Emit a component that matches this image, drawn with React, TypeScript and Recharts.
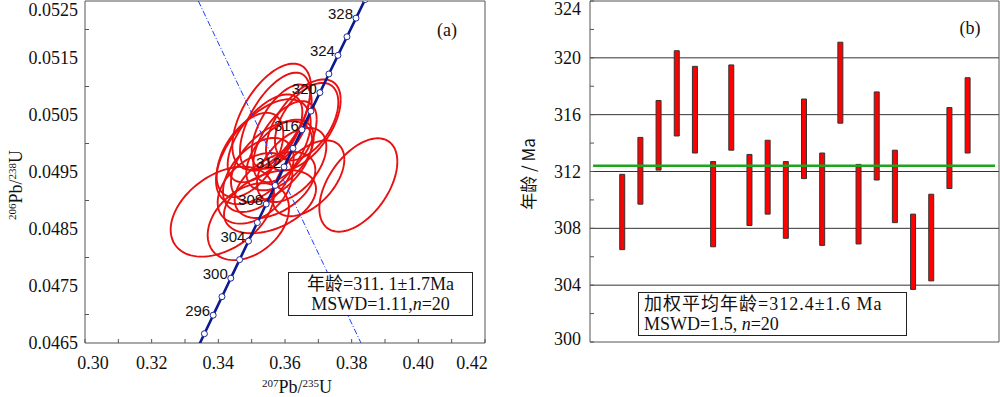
import React from 'react';
import {
  ComposedChart,
  Line,
  Bar,
  XAxis,
  YAxis,
  ReferenceArea,
  ReferenceLine,
  CartesianGrid,
} from 'recharts';

// ---------- Panel (a): concordia diagram ----------
const concordiaAge = [292, 294, 296, 298, 300, 302, 304, 306, 308, 310, 312, 314, 316, 318, 320, 322, 324, 326, 328, 330, 332];
const concordiaX = [0.333192, 0.335821, 0.338455, 0.341093, 0.343738, 0.346387, 0.349042, 0.351701, 0.354367, 0.357037, 0.359712, 0.362393, 0.36508, 0.367771, 0.370468, 0.37317, 0.375877, 0.37859, 0.381308, 0.384031, 0.38676];
const concordiaY = [0.0463381, 0.0466627, 0.0469875, 0.0473124, 0.0476374, 0.0479626, 0.0482878, 0.0486131, 0.0489385, 0.049264, 0.0495896, 0.0499154, 0.0502413, 0.0505673, 0.0508935, 0.0512198, 0.0515462, 0.0518728, 0.0521995, 0.0525262, 0.0528532];
const concordiaLabelAges = [296, 300, 304, 308, 312, 316, 320, 324, 328];

const discordiaX = [0.334, 0.3828];
const discordiaY = [0.0525, 0.0465];

// error ellipses: centre, half extents, correlation
const ellCx = [0.382, 0.3412, 0.349, 0.3555, 0.367, 0.356, 0.357, 0.3655, 0.3665, 0.3535, 0.356, 0.352, 0.3585, 0.354, 0.36, 0.351, 0.357, 0.362, 0.3495, 0.359];
const ellCy = [0.049272, 0.048804, 0.048629, 0.04898, 0.049389, 0.050471, 0.050383, 0.050325, 0.050383, 0.049857, 0.049682, 0.049448, 0.049799, 0.050091, 0.050033, 0.049214, 0.049272, 0.049623, 0.049799, 0.050296];
const ellSx = [0.0117, 0.0155, 0.0122, 0.0138, 0.0108, 0.0118, 0.0105, 0.0112, 0.0095, 0.0142, 0.0122, 0.0106, 0.0101, 0.0112, 0.0095, 0.0112, 0.0121, 0.0104, 0.0100, 0.0090];
const ellSy = [0.000819, 0.000789, 0.000675, 0.000555, 0.000665, 0.000930, 0.000860, 0.000800, 0.000680, 0.000920, 0.000710, 0.000650, 0.000620, 0.000770, 0.000710, 0.000620, 0.000580, 0.000650, 0.000740, 0.000740];
const ellRho = [0.5, 0.4, 0.35, 0.4, 0.5, 0.55, 0.6, 0.55, 0.5, 0.55, 0.5, 0.45, 0.5, 0.6, 0.55, 0.4, 0.45, 0.5, 0.5, 0.6];

const xTicksA = [0.3, 0.31, 0.32, 0.33, 0.34, 0.35, 0.36, 0.37, 0.38, 0.39, 0.4, 0.41, 0.42];
const yTicksA = [0.0465, 0.047, 0.0475, 0.048, 0.0485, 0.049, 0.0495, 0.05, 0.0505, 0.051, 0.0515, 0.052, 0.0525];

// ---------- Panel (b): individual ages ----------
const spotIndex = [1, 2, 3, 4, 5, 6, 7, 8, 9, 10, 11, 12, 13, 14, 15, 16, 17, 18, 19, 20];
const ageHigh = [311.8, 314.4, 317.0, 320.5, 319.4, 312.7, 319.5, 313.2, 314.2, 312.7, 317.1, 313.3, 321.1, 312.5, 317.6, 313.5, 309.0, 310.4, 316.5, 318.6];
const ageLow = [306.5, 309.7, 312.1, 314.5, 313.3, 306.7, 313.5, 308.2, 309.0, 307.3, 311.5, 306.8, 315.4, 306.9, 311.4, 308.4, 303.7, 304.3, 310.8, 313.3];
const weightedMean = 312.4;
const yTicksB = [300, 302, 304, 306, 308, 310, 312, 314, 316, 318, 320, 322, 324];
const gridValuesB = [304, 308, 312, 316, 320];

// ---------- derived tables ----------
const concordiaData = concordiaAge.map((t, i) => ({
  x: concordiaX[i],
  y: concordiaY[i],
  label: concordiaLabelAges.includes(t) ? String(t) : '',
}));
const discordiaData = discordiaX.map((x, i) => ({ x, y: discordiaY[i] }));

const ELL_STEPS = 96;
const ellipses = ellCx.map((cx, i) => {
  const sx = ellSx[i];
  const sy = ellSy[i];
  const rho = ellRho[i];
  const k = Math.sqrt(1 - rho * rho);
  const pts = [] as { x: number; y: number }[];
  for (let s = 0; s <= ELL_STEPS; s++) {
    const a = (2 * Math.PI * s) / ELL_STEPS;
    pts.push({ x: cx + sx * Math.cos(a), y: ellCy[i] + sy * (rho * Math.cos(a) + k * Math.sin(a)) });
  }
  return pts;
});

const barData = spotIndex.map((i, j) => ({ i, range: [ageLow[j], ageHigh[j]] }));

const SERIF = '"Liberation Serif", "Times New Roman", serif';
const SANS = '"Liberation Sans", Arial, sans-serif';
const CJK = '"Noto Sans CJK SC", sans-serif';
const FRAME = '#555';

const XTickA = (props: any) => {
  const { x, y, payload } = props;
  const v = payload.value as number;
  const major = Math.round(v * 100) % 2 === 0;
  let dx = 0;
  if (Math.abs(v - 0.3) < 1e-9) dx = 8;
  if (Math.abs(v - 0.42) < 1e-9) dx = -13;
  return (
    <g>
      <line x1={x} y1={y} x2={x} y2={y - 4} stroke={FRAME} strokeWidth={1} />
      {major && (
        <text x={x + dx} y={y + 26} textAnchor="middle" fontFamily={SERIF} fontSize={18} fill="#111">
          {v.toFixed(2)}
        </text>
      )}
    </g>
  );
};

const YTickA = (props: any) => {
  const { x, y, payload } = props;
  const v = payload.value as number;
  const major = Math.round(v * 10000) % 10 === 5;
  const dy = Math.abs(v - 0.0525) < 1e-9 ? 9 : 0;
  return (
    <g>
      {!major && <line x1={x} y1={y} x2={x + 4} y2={y} stroke={FRAME} strokeWidth={1} />}
      {major && (
        <text x={x - 7} y={y + 6 + dy} textAnchor="end" fontFamily={SERIF} fontSize={18} fill="#111">
          {v.toFixed(4)}
        </text>
      )}
    </g>
  );
};

const YTickB = (props: any) => {
  const { x, y, payload } = props;
  const v = payload.value as number;
  const major = v % 4 === 0;
  let dy = 0;
  if (v === 324) dy = 8;
  if (v === 300) dy = -3;
  return (
    <g>
      <line x1={x} y1={y} x2={x + 4} y2={y} stroke={FRAME} strokeWidth={1} />
      {major && (
        <text x={x - 9} y={y + 6 + dy} textAnchor="end" fontFamily={SERIF} fontSize={18} fill="#111">
          {v}
        </text>
      )}
    </g>
  );
};

const ConcordiaDot = (props: any) => {
  const { cx, cy, payload, index } = props;
  if (cx == null || cy == null) return <g key={`d${index}`} />;
  return (
    <g key={`d${index}`}>
      <circle cx={cx} cy={cy} r={3} fill="#fff" stroke="#1c2a9a" strokeWidth={1} />
      {payload.label && (
        <text x={cx - 3} y={cy + 1} textAnchor="end" fontFamily={SANS} fontSize={15} fill="#111">
          {payload.label}
        </text>
      )}
    </g>
  );
};

export default function App() {
  return (
    <div style={{ position: 'absolute', left: 0, top: 0, width: 1000, height: 397, background: '#fff', overflow: 'hidden' }}>
      {/* Panel (a) */}
      <div style={{ position: 'absolute', left: 0, top: 0 }}>
        <ComposedChart width={490} height={397} margin={{ top: 1, right: 5, bottom: 24, left: 5 }}>
          <XAxis
            dataKey="x"
            type="number"
            domain={[0.3, 0.42]}
            ticks={xTicksA}
            interval={0}
            allowDataOverflow
            height={30}
            tickSize={0}
            tickMargin={0}
            tickLine={false}
            axisLine={false}
            tick={<XTickA />}
          />
          <YAxis
            dataKey="y"
            type="number"
            domain={[0.0465, 0.0525]}
            ticks={yTicksA}
            interval={0}
            allowDataOverflow
            width={80}
            tickSize={0}
            tickMargin={0}
            tickLine={false}
            axisLine={false}
            tick={<YTickA />}
          />
          {ellipses.map((pts, i) => (
            <Line
              key={`e${i}`}
              data={pts}
              dataKey="y"
              type="linear"
              stroke="#e81010"
              strokeWidth={1.9}
              dot={false}
              activeDot={false}
              isAnimationActive={false}
            />
          ))}
          <Line
            data={discordiaData}
            dataKey="y"
            type="linear"
            stroke="#1f3cff"
            strokeWidth={1}
            strokeDasharray="6 2 1 2"
            dot={false}
            activeDot={false}
            isAnimationActive={false}
          />
          <Line
            data={concordiaData}
            dataKey="y"
            type="monotone"
            stroke="#0b1a8c"
            strokeWidth={2.6}
            dot={<ConcordiaDot />}
            activeDot={false}
            isAnimationActive={false}
          />
          <ReferenceArea x1={0.3} x2={0.42} y1={0.0465} y2={0.0525} fill="none" stroke={FRAME} strokeWidth={1} />
        </ComposedChart>
      </div>

      {/* Panel (b) */}
      <div style={{ position: 'absolute', left: 500, top: 0 }}>
        <ComposedChart width={500} height={397} data={barData} margin={{ top: 1, right: 1, bottom: 55, left: 10 }}>
          <CartesianGrid horizontal vertical={false} horizontalValues={gridValuesB} stroke="#333" strokeWidth={1} />
          <XAxis dataKey="i" type="number" domain={[-0.75, 21.75]} allowDataOverflow hide />
          <YAxis
            type="number"
            domain={[300, 324]}
            ticks={yTicksB}
            interval={0}
            allowDataOverflow
            width={80}
            tickSize={0}
            tickMargin={0}
            tickLine={false}
            axisLine={false}
            tick={<YTickB />}
          />
          <ReferenceLine
            segment={[
              { x: -0.58, y: weightedMean },
              { x: 21.53, y: weightedMean },
            ]}
            stroke="#1ea51e"
            strokeWidth={2.4}
          />
          <Bar dataKey="range" barSize={5} fill="#ff0000" stroke="#333" strokeWidth={1} isAnimationActive={false} />
          <ReferenceArea x1={-0.75} x2={21.75} y1={300} y2={324} fill="none" stroke={FRAME} strokeWidth={1} />
        </ComposedChart>
      </div>

      {/* Axis titles and annotations */}
      <div
        style={{
          position: 'absolute',
          left: 14,
          top: 185,
          transform: 'translate(-50%, -50%) rotate(-90deg)',
          whiteSpace: 'nowrap',
          fontFamily: SERIF,
          fontSize: 18,
          lineHeight: '20px',
          color: '#111',
        }}
      >
        <span style={{ fontSize: 11, verticalAlign: '6px' }}>206</span>Pb/<span style={{ fontSize: 11, verticalAlign: '6px' }}>238</span>U
      </div>
      <div
        style={{
          position: 'absolute',
          left: 297,
          top: 385,
          transform: 'translate(-50%, -50%)',
          whiteSpace: 'nowrap',
          fontFamily: SERIF,
          fontSize: 18,
          lineHeight: '22px',
          color: '#111',
        }}
      >
        <span style={{ fontSize: 11, verticalAlign: '6px' }}>207</span>Pb/<span style={{ fontSize: 11, verticalAlign: '6px' }}>235</span>U
      </div>
      <div style={{ position: 'absolute', left: 447, top: 30, transform: 'translate(-50%, -50%)', fontFamily: SERIF, fontSize: 18, color: '#111' }}>(a)</div>
      <div style={{ position: 'absolute', left: 970, top: 28, transform: 'translate(-50%, -50%)', fontFamily: SERIF, fontSize: 18, color: '#111' }}>(b)</div>

      <div
        style={{
          position: 'absolute',
          left: 288,
          top: 272,
          width: 185,
          height: 44,
          boxSizing: 'border-box',
          border: '1.5px solid #222',
          background: '#fff',
          display: 'flex',
          flexDirection: 'column',
          justifyContent: 'center',
          alignItems: 'center',
          fontFamily: `${SERIF}, ${CJK}`,
          fontSize: 18,
          lineHeight: '20px',
          color: '#111',
          whiteSpace: 'nowrap',
        }}
      >
        <div>年龄=311. 1±1.7Ma</div>
        <div>
          MSWD=1.11,<i>n</i>=20
        </div>
      </div>

      <div
        style={{
          position: 'absolute',
          left: 527,
          top: 174,
          transform: 'translate(-50%, -50%) rotate(-90deg)',
          whiteSpace: 'nowrap',
          fontFamily: CJK,
          fontSize: 17,
          color: '#111',
        }}
      >
        年龄 / Ma
      </div>

      <div
        style={{
          position: 'absolute',
          left: 638,
          top: 292,
          width: 269,
          height: 44,
          boxSizing: 'border-box',
          border: '1.5px solid #222',
          background: '#fff',
          display: 'flex',
          flexDirection: 'column',
          justifyContent: 'center',
          paddingLeft: 5,
          fontFamily: `${SERIF}, ${CJK}`,
          fontSize: 18,
          lineHeight: '20px',
          color: '#111',
          whiteSpace: 'nowrap',
        }}
      >
        <div style={{ letterSpacing: 1 }}>加权平均年龄=312.4±1.6 Ma</div>
        <div>
          MSWD=1.5, <i>n</i>=20
        </div>
      </div>
    </div>
  );
}
